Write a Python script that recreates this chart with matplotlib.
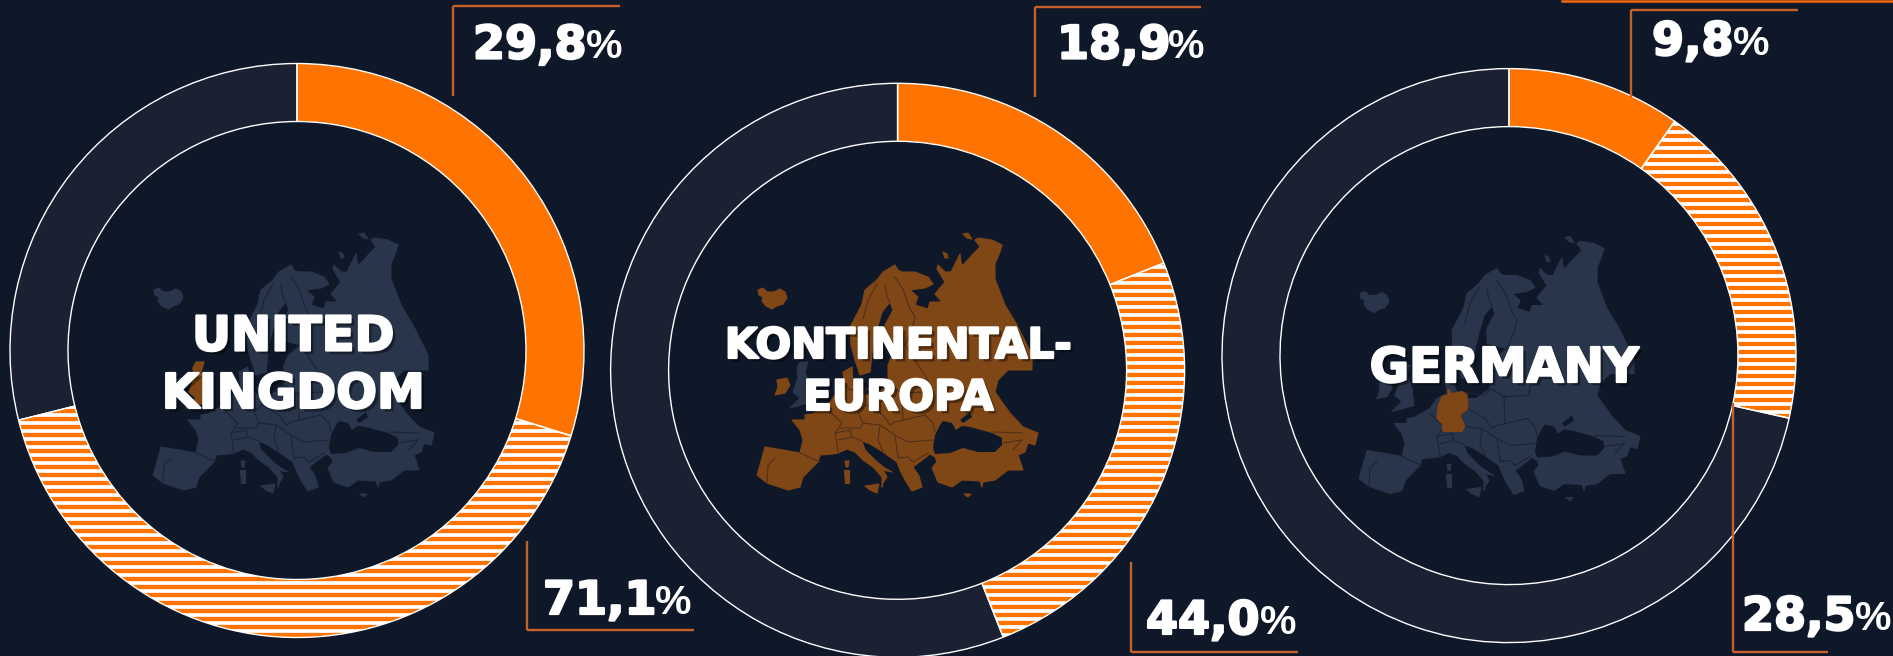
import matplotlib
matplotlib.use('Agg')
import matplotlib.pyplot as plt
import matplotlib.patheffects as pe
from matplotlib.patches import Polygon
import numpy as np

# -------------------------------------------------------------------------------------------------------------------- #
# DATA

uk_shares = [29.8, 71.1]
continental_shares = [18.9, 44.0]
germany_shares = [9.8, 28.5]

uk_labels = ['29,8', '71,1']
continental_labels = ['18,9', '44,0']
germany_labels = ['9,8', '28,5']

uk_title = ['UNITED', 'KINGDOM']
continental_title = ['KONTINENTAL-', 'EUROPA']
germany_title = ['GERMANY']

# -------------------------------------------------------------------------------------------------------------------- #
# STYLE

W, H = 1893, 656
BG = '#0E1829'
ORANGE = '#FF7300'
RING = '#1B2033'
CALLOUT = '#C8602A'
TOP_LINE = '#F26A0F'
LAND = '#28354A'
LAND_BORDER = '#1A2436'
BROWN = '#7F4616'
BROWN_BORDER = '#50301A'
R_OUT, R_IN = 287, 229

# -------------------------------------------------------------------------------------------------------------------- #
# MAP OUTLINES (pixel positions of the drawing in the middle ring)

MAINLAND = [(851, 345), (850, 327), (858, 312), (862, 304), (865, 290), (877, 280), (883, 272), (895, 265), (898, 270),
            (902, 272), (915, 272), (928, 277), (933, 284), (925, 288), (910, 290), (918, 297), (915, 305), (928, 309),
            (930, 302), (942, 302), (935, 294), (945, 282), (937, 269), (938, 265), (945, 272), (951, 272), (957, 260),
            (960, 254), (961, 262), (967, 280), (963, 265), (975, 252), (980, 247), (975, 240), (978, 238), (992, 240),
            (1002, 245), (1000, 252), (995, 264), (995, 279), (1005, 305), (1017, 325), (1032, 355), (1032, 370),
            (1008, 370), (998, 380), (995, 392), (1002, 402), (1010, 413), (1023, 427), (1038, 433), (1035, 445),
            (1028, 443), (1025, 452), (1018, 455), (1023, 470), (1008, 470), (995, 480), (983, 482), (982, 487),
            (980, 481), (962, 480), (952, 487), (938, 482), (932, 468), (937, 462), (935, 457), (930, 454), (913, 467),
            (919, 476), (922, 487), (912, 491), (905, 480), (900, 470), (897, 462), (883, 452), (870, 444), (862, 441),
            (865, 450), (877, 462), (885, 468), (892, 472), (883, 470), (887, 477), (883, 483), (882, 487), (882, 477),
            (873, 467), (863, 460), (855, 452), (847, 449), (838, 453), (833, 454), (820, 455), (818, 462), (803, 477),
            (800, 487), (788, 490), (767, 483), (757, 475), (760, 465), (765, 447), (783, 450), (800, 453), (803, 440),
            (800, 430), (792, 420), (805, 420), (805, 415), (812, 414), (828, 405), (835, 395), (845, 390), (843, 372),
            (852, 367), (853, 385), (860, 395), (875, 395), (888, 385), (888, 365), (892, 356), (905, 345), (885, 340),
            (885, 325), (893, 310), (890, 302), (882, 312), (877, 329), (873, 345), (870, 372), (860, 375), (855, 360)]
BLACK_SEA = [(933, 448), (935, 435), (940, 425), (943, 421), (952, 423), (956, 430), (962, 426), (970, 427), (992, 433),
             (1002, 438), (1002, 445), (995, 452), (978, 452), (963, 448), (950, 453), (935, 454)]
AZOV = [(960, 420), (970, 412), (972, 417), (963, 423)]
ISLANDS = [
    [(758, 290), (763, 288), (767, 292), (774, 292), (780, 289), (785, 292), (787, 298), (783, 304), (777, 306),
     (772, 309), (766, 306), (762, 301), (763, 297), (759, 295)],
    [(777, 380), (787, 378), (790, 385), (785, 393), (775, 395), (778, 387)],
    [(865, 486), (879, 484), (877, 493), (870, 490)],
    [(844, 470), (849, 470), (849, 483), (845, 483)],
    [(845, 461), (849, 461), (848, 467), (846, 467)],
    [(963, 234), (968, 233), (972, 239), (967, 238)],
    [(943, 252), (947, 254), (948, 258), (945, 258)],
    [(964, 494), (971, 494), (968, 497)],
]
BRITAIN = [(800, 362), (808, 362), (805, 372), (810, 385), (812, 402), (790, 408), (800, 398), (793, 392), (798, 378),
           (797, 368)]
GERMANY = [(846, 385), (850, 390), (860, 388), (865, 391), (866, 405), (858, 412), (863, 423), (860, 428), (841, 428),
           (840, 420), (835, 415), (836, 403), (840, 393), (846, 391)]
BORDERS = [
    [(775, 458), (768, 465), (767, 482)],
    [(800, 453), (820, 462)],
    [(828, 410), (842, 423), (835, 433), (838, 452)],
    [(835, 433), (850, 430), (852, 437), (838, 440)],
    [(852, 437), (862, 441)],
    [(846, 385), (850, 390), (860, 388), (865, 391), (866, 405), (858, 412), (863, 423), (860, 428), (841, 428)],
    [(860, 388), (883, 392), (888, 385)],
    [(866, 405), (883, 415), (890, 425), (895, 422), (903, 420), (925, 415), (933, 423), (935, 432)],
    [(863, 423), (880, 425), (895, 435), (908, 442), (933, 440)],
    [(880, 425), (878, 440), (883, 452)],
    [(895, 435), (898, 458), (908, 457), (913, 462), (928, 453)],
    [(888, 385), (902, 393), (927, 392), (928, 380), (918, 365), (905, 345)],
    [(902, 393), (903, 420)],
    [(863, 319), (868, 300), (877, 284)],
    [(885, 285), (887, 297), (890, 302)],
    [(895, 277), (903, 289), (910, 309), (915, 317), (912, 329), (905, 345)],
    [(993, 432), (1022, 433)],
    [(1003, 443), (1022, 440)],
    [(1013, 450), (1022, 440)],
]

# -------------------------------------------------------------------------------------------------------------------- #
# PLOT

fig = plt.figure(figsize=(W / 100, H / 100), dpi=100, facecolor=BG)
ax = fig.add_axes([0, 0, 1, 1], facecolor=BG)


def flip(points, dx=0, dy=0):
    return [(x + dx, H - (y + dy)) for x, y in points]


def draw_ring(cx, cy, shares):
    parts = np.diff([0] + shares + [100])
    center = (cx, H - cy)
    wedges, _ = ax.pie(parts, colors=[ORANGE, 'white', RING], center=center, radius=R_OUT, startangle=90,
                       counterclock=False, wedgeprops=dict(width=R_OUT - R_IN, linewidth=0), normalize=True)

    # horizontal stripes of the middle segment
    stripes = np.arange(cy + 4.4 - 8 * 40, cy + 8 * 40, 8)
    lines = ax.hlines(H - stripes, cx - R_OUT, cx + R_OUT, color=ORANGE, linewidth=4.3 * 0.72, zorder=3)
    lines.set_clip_path(wedges[1])

    ax.pie(parts, colors=['none'] * 3, center=center, radius=R_OUT, startangle=90, counterclock=False,
           wedgeprops=dict(width=R_OUT - R_IN, linewidth=1.0, edgecolor='white', zorder=4), normalize=True)


def draw_map(dx, dy, land, border, highlight=None):
    def add(points, color, z=2, edge=True):
        ax.add_patch(Polygon(flip(points, dx, dy), closed=True, facecolor=color, edgecolor=color if edge else 'none',
                             linewidth=0.8, joinstyle='round', zorder=z))

    add(MAINLAND, land)
    add(BLACK_SEA, BG, edge=False)
    add(AZOV, BG, edge=False)
    for island in ISLANDS:
        add(island, land)
    add(BRITAIN, LAND if highlight == 'continent' else land)
    for line in BORDERS:
        xy = np.array(flip(line, dx, dy))
        ax.plot(xy[:, 0], xy[:, 1], color=border, linewidth=0.8, zorder=2.1)
    if highlight == 'britain':
        add(BRITAIN, BROWN, 2.2)
    if highlight == 'germany':
        add(GERMANY, BROWN, 2.2)


def draw_callout(x, y_top, y_bottom, x_end, y_horizontal):
    ax.plot([x, x], [H - y_top, H - y_bottom], color=CALLOUT, linewidth=1.7, zorder=5, solid_capstyle='butt')
    ax.plot([x, x_end], [H - y_horizontal, H - y_horizontal], color=CALLOUT, linewidth=1.7, zorder=5,
            solid_capstyle='butt')


def draw_value(label, x, baseline, x_percent):
    ax.text(x, H - baseline, label, family='DejaVu Sans', weight='bold', fontsize=46 * 0.72, color='white',
            ha='left', va='baseline', zorder=6, path_effects=[pe.withStroke(linewidth=1.6, foreground='white')])
    ax.text(x_percent, H - baseline, '%', family='Liberation Sans', weight='bold', fontsize=41 * 0.72, color='white',
            ha='left', va='baseline', zorder=6)


def draw_title(lines, cx, baselines, size):
    for line, baseline in zip(lines, baselines):
        ax.text(cx, H - baseline, line, family='DejaVu Sans', weight='bold', fontsize=size * 0.72, color='white',
                ha='center', va='baseline', zorder=6,
                path_effects=[pe.SimplePatchShadow(offset=(2.5, -2.5), shadow_rgbFace='black', alpha=0.4),
                              pe.withStroke(linewidth=1.6, foreground='white')])


draw_ring(297, 350.5, uk_shares)
draw_ring(897.6, 370.3, continental_shares)
draw_ring(1509, 355.6, germany_shares)

draw_map(-604, 0, LAND, LAND_BORDER, 'britain')
draw_map(0, 0, BROWN, BROWN_BORDER, 'continent')
draw_map(602, 3.5, LAND, LAND_BORDER, 'germany')

draw_callout(453, 6, 96, 620, 6)
draw_callout(527, 541, 630, 694, 630)
draw_callout(1035, 7, 97, 1201, 7)
draw_callout(1131, 562, 652, 1298, 652)
draw_callout(1631, 10, 97, 1798, 10)
draw_callout(1733, 403, 652, 1828, 652)
ax.plot([1562, W], [H - 0.5, H - 0.5], color=TOP_LINE, linewidth=1.8, zorder=5)

draw_value(uk_labels[0], 473, 58.5, 586)
draw_value(uk_labels[1], 543, 614, 655)
draw_value(continental_labels[0], 1057, 58.5, 1168)
draw_value(continental_labels[1], 1146, 634, 1260)
draw_value(germany_labels[0], 1652, 55, 1733)
draw_value(germany_labels[1], 1742, 630, 1855)

draw_title(uk_title, 293, [350.5, 408], 48)
draw_title(continental_title, 898.5, [358, 410], 42)
draw_title(germany_title, 1504, [382], 48)

ax.set_xlim(0, W)
ax.set_ylim(0, H)
ax.set_aspect('auto')
ax.axis('off')

fig.savefig('out.png', dpi=100, facecolor=BG)
